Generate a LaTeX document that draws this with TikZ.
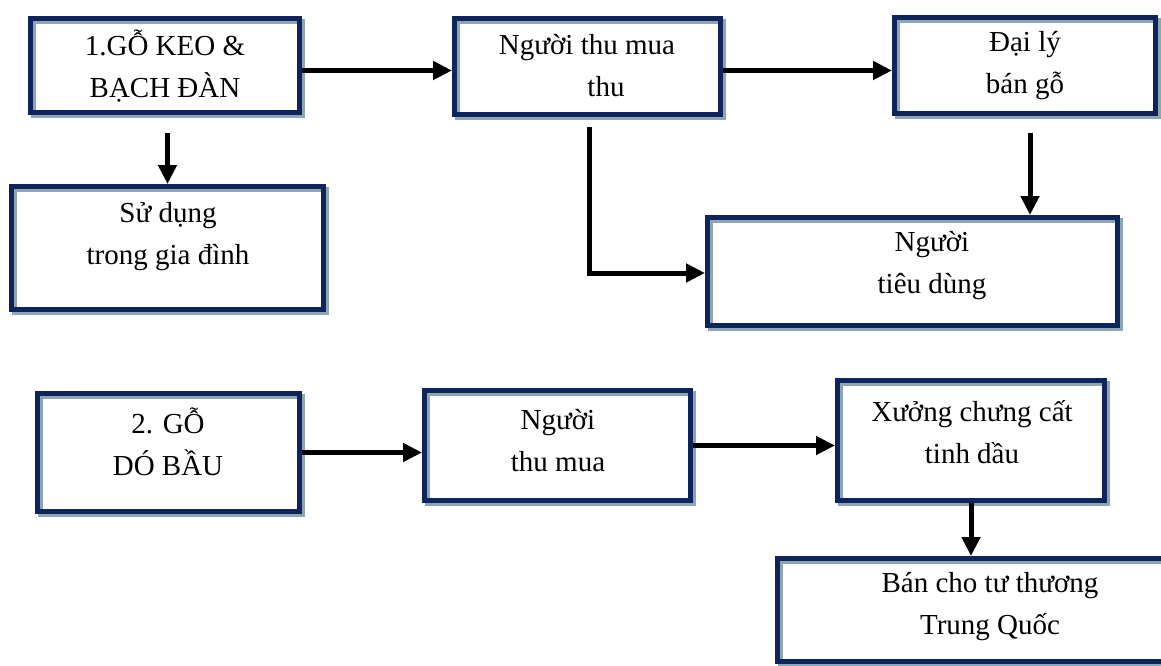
\documentclass[tikz,border=0pt]{standalone}
\usepackage{fontspec}
\setmainfont{Liberation Serif}
\usetikzlibrary{arrows.meta,calc}

\definecolor{khungxanh}{HTML}{0D245C}
\definecolor{bongxam}{HTML}{8FA6B2}

\tikzset{
  hop/.style={draw=khungxanh, line width=5pt, inner sep=0pt,
    preaction={draw=bongxam, line width=5pt, transform canvas={shift={(3pt,-3pt)}}}},
  chu/.style={align=center, font=\fontsize{29}{42}\selectfont, inner sep=0pt},
  muiten/.style={->, line width=5pt},
}

\begin{document}
\begin{tikzpicture}[x=1pt,y=1pt,>={Triangle[length=19pt,width=18pt]}]
		\useasboundingbox (0,0) rectangle (1161,-666);
		\clip (0,0) rectangle (1161,-666);
		% Go keo & bach dan
		\node[hop, minimum width=269pt, minimum height=94pt] (keo) at (165,-65.5) {};
		\node[chu] (keo-t) at (165,-66) {1.GỖ KEO \&\\BẠCH ĐÀN};
		\node[hop, minimum width=266pt, minimum height=96pt] (thumua) at (587.5,-66.5) {};
		\node[chu] (thumua-t) at (587,-66) {Người thu mua\\\hspace*{38pt}thu};
		\node[hop, minimum width=261pt, minimum height=96pt] (daily) at (1025,-65.5) {};
		\node[chu] (daily-t) at (1025,-66) {Đại lý\\bán gỗ};
		\node[hop, minimum width=312pt, minimum height=123pt] (giadinh) at (167.5,-248) {};
		\node[chu] (giadinh-t) at (168,-237) {Sử dụng\\trong gia đình};
		\node[hop, minimum width=410pt, minimum height=108pt] (tieudung) at (912.5,-271.5) {};
		\node[chu] (tieudung-t) at (932,-266) {Người\\tiêu dùng};
		% Go do bau
		\node[hop, minimum width=262pt, minimum height=118pt] (dobau) at (168.5,-452.5) {};
		\node[chu] (dobau-t) at (168,-442) {2. GỖ\\DÓ BẦU};
		\node[hop, minimum width=266pt, minimum height=110pt] (thumuab) at (557.5,-445.5) {};
		\node[chu] (thumuab-t) at (558,-441) {Người\\thu mua};
		\node[hop, minimum width=267pt, minimum height=120pt] (xuong) at (971,-440.5) {};
		\node[chu] (xuong-t) at (972,-432) {Xưởng chưng cất\\tinh dầu};
		\node[hop, minimum width=425pt, minimum height=103pt] (tq) at (990,-610) {};
		\node[chu] (tq-t) at (990,-607) {Bán cho tư thương\\Trung Quốc};

		% Mui ten
		\draw[muiten] ([yshift=-5pt]keo.east) -- ([yshift=-5pt]keo.east -| thumua.west);
		\draw[muiten] ([yshift=-4pt]thumua.east) -- ([yshift=-4pt]thumua.east -| daily.west);
		\draw[muiten] ([shift={(2.5pt,-18pt)}]keo.south) -- ([xshift=2.5pt]keo.south |- giadinh.north);
		\draw[muiten] ([shift={(1.5pt,-10pt)}]thumua.south) |- ([yshift=-1.5pt]tieudung.west);
		\draw[muiten] ([shift={(5pt,-17pt)}]daily.south) -- ([xshift=5pt]daily.south |- tieudung.north);
		\draw[muiten] (dobau.east) -- (dobau.east -| thumuab.west);
		\draw[muiten] (thumuab.east) -- (thumuab.east -| xuong.west);
		\draw[muiten] (xuong.south) -- (xuong.south |- tq.north);
	\end{tikzpicture}
\end{document}
